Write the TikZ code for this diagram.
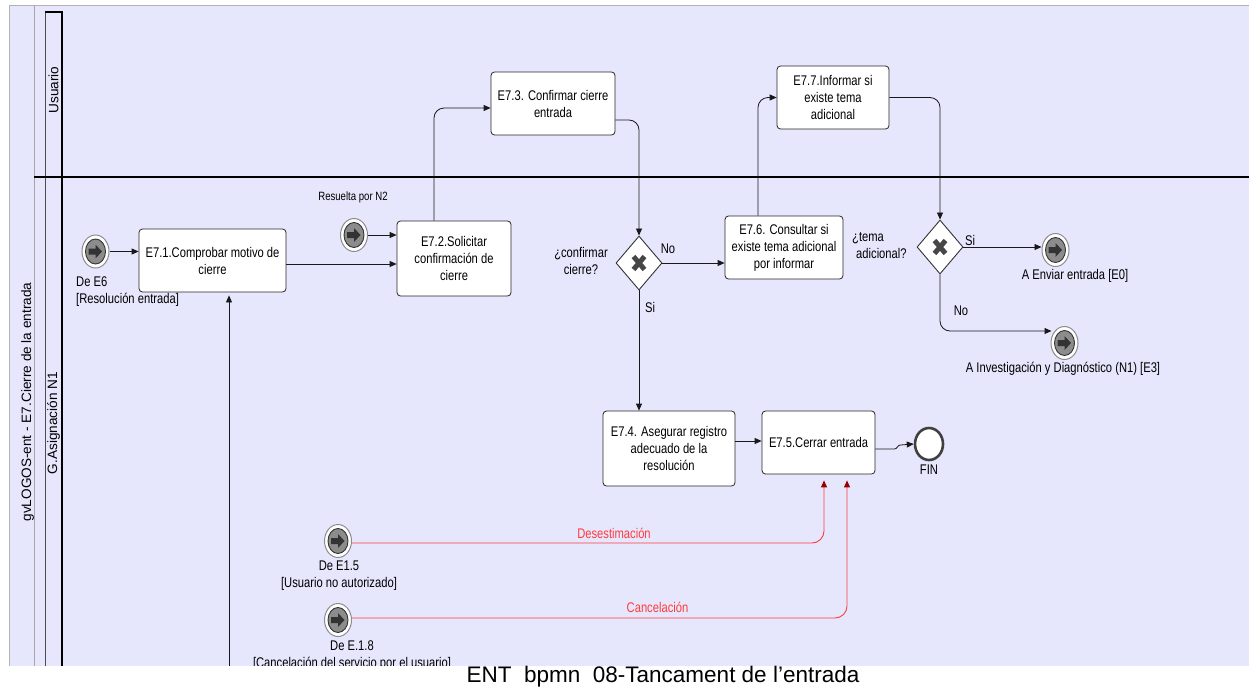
\documentclass[tikz,border=0pt]{standalone}
\usepackage{fontspec}
\setmainfont{Liberation Sans}[FakeStretch=0.8]
\newfontfamily\plainsans{Liberation Sans}
\usetikzlibrary{shapes.geometric, arrows.meta}
\definecolor{poolbg}{RGB}{230,230,252}
\definecolor{flowred}{RGB}{255,60,60}
\definecolor{tipred}{RGB}{150,0,0}
\definecolor{xgray}{RGB}{70,70,70}
\newcommand\tasktext{\fontsize{14}{17}\selectfont}
\newcommand\smalltext{\fontsize{12}{14}\selectfont}
\newcommand\lanetext{\plainsans\fontsize{13.6}{16}\selectfont}
\tikzset{
  task/.style={draw=black!85, fill=white, rounded corners=3.5pt, line width=0.8pt,
    align=center, font=\tasktext, inner sep=1pt},
  gate/.style={diamond, draw=black!80, fill=white, line width=0.9pt,
    minimum width=46pt, minimum height=54pt, inner sep=0pt, shape aspect=0.85,
    path picture={
      \draw[xgray, line width=5pt]
        ([shift={(-5.5pt,-6.5pt)}]path picture bounding box.center) --
        ([shift={(5.5pt,6.5pt)}]path picture bounding box.center)
        ([shift={(-5.5pt,6.5pt)}]path picture bounding box.center) --
        ([shift={(5.5pt,-6.5pt)}]path picture bounding box.center);}},
  linkev/.style={ellipse, minimum width=27pt, minimum height=33pt, inner sep=0pt,
    draw=black!45, fill=white, line width=1pt,
    path picture={
      \begin{scope}[shift={(path picture bounding box.center)}]
        \draw[black!80, line width=0.9pt, fill=black!45]
          (0pt,0pt) ellipse [x radius=10pt, y radius=12.5pt];
        \fill[black!80] (-7pt,-3pt) -- (0pt,-3pt) -- (0pt,-7pt) -- (6.5pt,0pt)
          -- (0pt,7pt) -- (0pt,3pt) -- (-7pt,3pt) -- cycle;
      \end{scope}}},
  endev/.style={ellipse, minimum width=28pt, minimum height=32pt, inner sep=0pt,
    draw=black!75, fill=white, line width=2.6pt},
  flow/.style={draw=black!90, line width=0.8pt, -{Triangle[length=7pt,width=6pt]}},
  rflow/.style={draw=flowred, line width=0.9pt,
    -{Triangle[length=7pt,width=6pt,color=tipred]}},
  lbl/.style={font=\tasktext, align=center, inner sep=0pt},
  rlbl/.style={lbl, text=flowred},
  lanelbl/.style={rotate=90, font=\lanetext, fill=poolbg, inner sep=1pt}
}
\begin{document}
\begin{tikzpicture}[x=1pt, y=-1pt]
\useasboundingbox (0,0) rectangle (1249,688);

\begin{scope}
\clip (0,0) rectangle (1249,665);
% pool and lanes
\fill[poolbg] (9,5) rectangle (1250,666);
\draw[black!30, line width=1pt] (9,667) -- (9,5) -- (1250,5);
\draw[black!35, line width=1pt] (34,5) -- (34,667);
\draw[black!70, line width=1pt] (45,667) -- (45,12);
\draw[black, line width=1.2pt] (45,12) -- (62,12) -- (62,667);
\draw[black, line width=1.8pt] (34,177) -- (1250,177);

\node[lanelbl, fill=none] (pool) at (27.5,402) {gvLOGOS-ent - E7.Cierre de la entrada};
\node[lanelbl] (laneU) at (53.5,90) {Usuario};
\node[lanelbl] (laneA) at (53.5,423) {G.Asignación N1};

% tasks
\node[task, minimum width=147pt, minimum height=63pt] (t71) at (212.5,260.5) {E7.1.Comprobar motivo de\\cierre};
\node[task, minimum width=114pt, minimum height=75pt] (t72) at (454,258.5) {E7.2.Solicitar\\confirmación de\\cierre};
\node[task, minimum width=124pt, minimum height=63pt] (t73) at (553,103.5) {E7.3. Confirmar cierre\\entrada};
\node[task, minimum width=132pt, minimum height=75pt] (t74) at (669,448.5) {E7.4. Asegurar registro\\adecuado de la\\resolución};
\node[task, minimum width=113pt, minimum height=63pt] (t75) at (818.5,442.5) {E7.5.Cerrar entrada};
\node[task, minimum width=118pt, minimum height=63pt] (t76) at (784,247.5) {E7.6. Consultar si\\existe tema adicional\\por informar};
\node[task, minimum width=112pt, minimum height=63pt] (t77) at (833,97.5) {E7.7.Informar si\\existe tema\\adicional};

% gateways
\node[gate] (g1) at (639,263) {};
\node[gate] (g2) at (940,247) {};

% events
\node[linkev] (s1) at (95.5,251.5) {};
\node[linkev] (s2) at (354,235) {};
\node[linkev] (s3) at (338,541) {};
\node[linkev] (s4) at (338,620) {};
\node[linkev] (e1) at (1055.5,250) {};
\node[linkev] (e2) at (1064.5,343) {};
\node[endev] (fin) at (929,444) {};

% event and gateway texts
\node[lbl, anchor=west, align=left] (s1t) at (76,291.5) {De E6\\{[}Resolución entrada{]}};
\node[lbl, font=\smalltext] (s2t) at (353,197) {Resuelta por N2};
\node[lbl] (s3t) at (339,575.5) {De E1.5\\{[}Usuario no autorizado{]}};
\node[lbl] (s4t) at (352,656) {De E.1.8\\{[}Cancelación del servicio por el usuario{]}};
\node[lbl] (e1t) at (1075,276) {A Enviar entrada [E0]};
\node[lbl] (e2t) at (1063,369) {A Investigación y Diagnóstico (N1) [E3]};
\node[lbl] (fint) at (929,470) {FIN};
\node[lbl] (g1t) at (581,261) {¿confirmar\\cierre?};
\node[lbl, anchor=west, align=left] (g2t) at (852,246) {¿tema\\\hspace*{4pt}adicional?};
\node[lbl] (g1no) at (668,249) {No};
\node[lbl] (g1si) at (650,307) {Si};
\node[lbl] (g2si) at (970,240) {Si};
\node[lbl] (g2no) at (961,311) {No};
\node[rlbl] (r1t) at (614,533) {Desestimación};
\node[rlbl] (r2t) at (657.5,607) {Cancelación};

% sequence flows
\draw[flow] (s1.east) -- (s1.east -| t71.west);
\draw[flow] (s2.east) -- (s2.east -| t72.west);
\draw[flow] ([yshift=-3.5pt]t71.east) -- ([yshift=-3.5pt]t71.east -| t72.west);
\draw[flow, rounded corners=10pt] ([xshift=-20pt]t72.north) |- ([yshift=-4.5pt]t73.west);
\draw[flow, rounded corners=10pt] ([yshift=-16.5pt]t73.east) -| (g1.north);
\draw[flow] (g1.east) -- (g1.east -| t76.west);
\draw[flow] (g1.south) -- (g1.south |- t74.north);
\draw[flow] ([yshift=7.5pt]t74.east) -- ([yshift=7.5pt]t74.east -| t75.west);
\draw[flow] ([yshift=-6.5pt]t75.east) -- ++(19,0)
  .. controls +(3,0) and +(-3,0) .. ++(6,-4) -- (fin.west);
\draw[flow, rounded corners=10pt] ([xshift=-26pt]t76.north) |- (t77.west);
\draw[flow, rounded corners=10pt] (t77.east) -| (g2.north);
\draw[flow] (g2.east) -- (g2.east -| e1.west);
\draw[flow, rounded corners=10pt] (g2.south) |- ([xshift=1pt,yshift=12pt]e2.west);
\draw[rflow, rounded corners=12pt] ([yshift=-2pt]s3.east) -| ([xshift=5.5pt,yshift=-6pt]t75.south);
\draw[rflow, rounded corners=12pt] ([yshift=2pt]s4.east) -| ([xshift=28.5pt,yshift=-6pt]t75.south);
\coordinate (below) at (229,667);
\draw[flow] (below) -- ([xshift=16.5pt,yshift=-3pt]t71.south);
\end{scope}

% caption
\node[anchor=base, font=\plainsans\fontsize{22.5}{26}\selectfont, inner sep=0pt] (cap) at (663,682)
  {ENT\ \ bpmn\ \ 08-Tancament de l’entrada};
\end{tikzpicture}
\end{document}
